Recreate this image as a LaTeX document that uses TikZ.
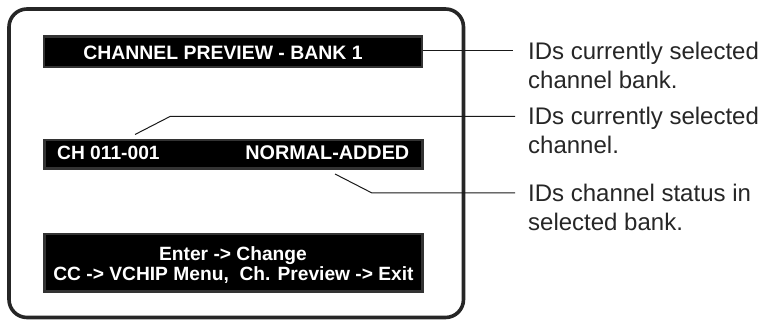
\documentclass[tikz,border=0pt]{standalone}
\usepackage{fontspec}
\setmainfont{Liberation Sans}
\tikzset{
 px/.style={x=1pt,y=-1pt},
 bartext/.style={text=white,font=\bfseries\fontsize{19.2}{20.5}\selectfont},
 bar/.style={bartext,fill=black,draw=black!80,line width=2.5pt,minimum width=378pt,inner sep=0pt,align=center},
 callout/.style={anchor=north west,align=left,inner sep=0pt,font=\fontsize{24}{29}\selectfont,text=black!85},
 lead/.style={draw=black!90,line width=1pt}
}
\begin{document}
\begin{tikzpicture}[px]
\useasboundingbox (0,0) rectangle (763,320);
\draw[draw=black!85,line width=3.6pt,rounded corners=18pt] (9,9) rectangle (463.5,317.5);
\node[bar,minimum height=30.5pt] (b1) at (233,52) {};
\node[anchor=base,bartext,inner sep=0pt,font=\bfseries\fontsize{19.4}{20.5}\selectfont] (b1t) at (223,59.3) {CHANNEL PREVIEW - BANK 1};
\node[bar,minimum height=28.5pt] (b2) at (233.5,154.5) {};
\node[anchor=base west,bartext,inner sep=0pt] (ch) at (57,160) {CH 011-001};
\node[anchor=base east,bartext,inner sep=0pt,font=\bfseries\fontsize{19.8}{20}\selectfont] (st) at (409.5,160) {NORMAL-ADDED};
\node[bar,minimum height=57.5pt] (b3) at (233.5,263) {};
\node[anchor=base,bartext,inner sep=0pt] (b3a) at (233,260.7) {Enter -> Change};
\node[anchor=base,bartext,inner sep=0pt] (b3b) at (233.5,281) {CC -> VCHIP Menu,\ \ Ch. Preview -> Exit};
\node[callout] (t1) at (528,41.5) {IDs currently selected\\channel bank.};
\node[callout] (t2) at (528,106.5) {IDs currently selected\\channel.};
\node[callout] (t3) at (528,183.5) {IDs channel status in\\selected bank.};
\coordinate (c1) at (513,50.5);
\coordinate (c2a) at (515,116.5);
\coordinate (c2b) at (170,116.5);
\coordinate (c2c) at (135,134.5);
\coordinate (c3a) at (515,193);
\coordinate (c3b) at (372,193);
\coordinate (c3c) at (335,174);
\draw[lead] (b1.east |- c1) -- (c1);
\draw[lead] (c2a) -- (c2b) -- (c2c);
\draw[lead] (c3a) -- (c3b) -- (c3c);
\end{tikzpicture}
\end{document}
